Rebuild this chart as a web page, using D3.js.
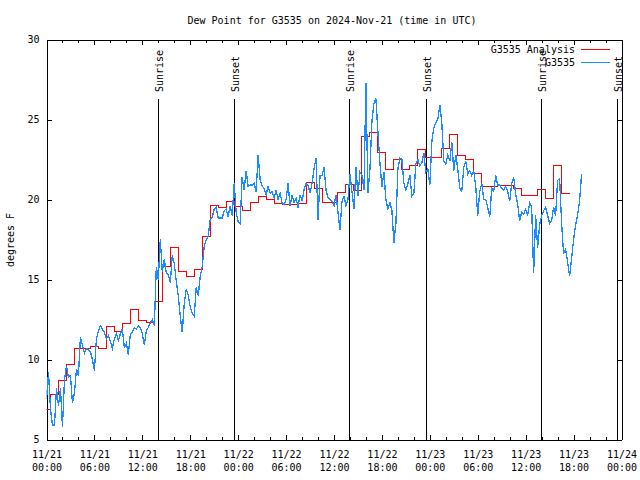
<!DOCTYPE html>
<html>
<head>
<meta charset="utf-8">
<script src="https://cdn.jsdelivr.net/npm/d3@7"></script>
<style>
  body { margin: 0; background: #fff; }
  svg text { font-family: "DejaVu Sans Mono", "Liberation Mono", monospace; font-size: 10px; fill: #000; }
</style>
</head>
<body>
<svg id="chart" width="640" height="480"></svg>
<script>
// ---------------- data ----------------
const chartTitle = "Dew Point for G3535 on 2024-Nov-21 (time in UTC)";
const yAxisLabel = "degrees F";
const seriesNames = ["G3535 Analysis", "G3535"];
const startTime = "2024-11-21T00:00:00Z";
const endTime = "2024-11-24T00:00:00Z";
const yTicks = [5, 10, 15, 20, 25, 30];
const xMajorStepHours = 6;
const xMinorStepHours = 2;

// hourly analysis values (held for the hour centred on each timestamp)
const analysisValues = [
  6.9, 7.8, 8.7, 9.7, 10.67, 10.67, 10.8, 10.67, 12.04, 11.75, 12.25, 13.1,
  12.42, 12.33, 13.65, 15.83, 16.98, 15.48, 15.21, 15.63, 17.71, 19.63, 19.5, 19.86,
  19.55, 19.31, 19.79, 20.17, 20.0, 19.75, 19.69, 19.7, 19.73, 21.04, 20.67, 19.83,
  19.83, 20.46, 20.94, 20.56, 23.96, 24.21, 22.96, 21.875, 22.5, 21.875, 22.125, 23.125,
  22.6, 22.6, 23.19, 24.06, 22.77, 22.48, 21.65, 20.83, 20.83, 20.9, 20.85, 20.67,
  20.25, 20.25, 20.625, 20.06, 22.125, 20.375
];

// station observations every 15 minutes from startTime
const obsStepMinutes = 15;
const obsValues = [
  7.5, 9.2, 6.9, 5.9,   5.9, 8.2, 7.1, 8.2,   5.8, 8.7, 9.6, 8.9,   9.0, 7.3, 7.9, 9.4,
  9.0, 11.4, 10.9, 10.4,   10.7, 10.6, 10.5, 10.0,   9.3, 11.3, 11.8, 12.1,   11.9, 11.7, 11.3, 11.5,
  11.1, 10.7, 11.3, 11.6,   11.2, 11.6, 11.9, 10.7,   11.0, 10.3, 11.6, 11.7,   12.0, 11.9, 12.1, 12.0,
  11.6, 10.9, 11.8, 12.0,   12.3, 12.5, 12.1, 15.8,   15.0, 17.5, 15.5, 16.25,   15.4, 15.3, 14.8, 16.5,
  16.0, 14.9, 14.0, 12.7,   11.7, 13.5, 14.4, 14.0,   13.3, 12.9, 12.7, 14.5,   14.0, 15.2, 15.8, 17.1,
  17.5, 17.7, 18.75, 18.9,   19.4, 19.5, 18.85, 18.85,   18.85, 19.3, 19.4, 18.9,   19.6, 19.0, 21.0, 19.2,
  18.6, 18.5, 21.4, 20.6,   21.8, 20.8, 20.9, 20.9,   21.0, 20.5, 22.8, 21.25,   20.85, 20.7, 20.3, 20.8,
  20.4, 20.5, 20.1, 20.6,   20.0, 20.4, 19.8, 19.7,   20.0, 21.0, 19.6, 20.3,   19.8, 20.1, 19.5, 20.3,
  19.9, 20.6, 21.0, 20.9,   20.4, 21.0, 21.9, 22.6,   18.7, 21.5, 21.5, 22.0,   20.6, 20.1, 20.0, 19.9,
  19.6, 20.3, 19.2, 18.1,   19.9, 20.2, 19.6, 20.0,   21.6, 20.5, 19.4, 22.0,   20.2, 21.7, 21.5, 20.6,
  27.3, 20.4, 21.9, 24.9,   26.0, 26.3, 24.2, 22.3,   20.8, 21.7, 20.0, 19.4,   19.8, 19.3, 17.3, 18.5,
  21.9, 22.6, 22.5, 21.0,   20.6, 21.0, 21.5, 20.2,   20.4, 22.2, 22.5, 22.1,   22.3, 22.9, 21.7, 21.9,
  20.9, 23.6, 24.5, 24.8,   25.0, 25.9, 24.8, 22.4,   22.2, 22.8, 22.4, 23.6,   21.8, 22.8, 21.9, 20.7,
  20.5, 22.0, 22.4, 21.6,   21.8, 21.5, 21.8, 20.8,   19.0, 20.5, 21.0, 20.0,   20.0, 19.5, 18.9, 20.7,
  20.5, 21.5, 20.9, 20.9,   20.7, 20.6, 20.8, 20.5,   19.9, 21.0, 21.4, 20.3,   19.7, 18.65, 19.2, 19.1,
  19.4, 19.0, 19.8, 19.5,   15.4, 19.0, 17.0, 18.4,   19.0, 19.3, 19.5, 19.0,   18.5, 18.7, 19.5, 19.0,
  21.2, 21.3, 18.5, 16.6,   16.9, 16.1, 15.2, 16.3,   17.5, 18.4, 19.0, 19.9,   21.6
];

const sunriseTimes = ["2024-11-21T14:00:00Z", "2024-11-22T13:57:00Z", "2024-11-23T13:59:00Z"];
const sunsetTimes  = ["2024-11-21T23:33:00Z", "2024-11-22T23:35:00Z", "2024-11-23T23:30:00Z"];

// ---------------- drawing ----------------
const svg = d3.select("#chart");
const W = 640, H = 480;
const margin = { left: 46.5, right: 621.5, top: 39.5, bottom: 439.5 };
const analysisColor = "#ff0000", obsColor = "#1a8cff";

const t0 = new Date(startTime), t1 = new Date(endTime);
const x = d3.scaleUtc().domain([t0, t1]).range([margin.left, margin.right]);
const y = d3.scaleLinear().domain([5, 30]).range([margin.bottom, margin.top]);

const hour = 3600 * 1000;
const majorTicks = d3.range(0, 72 + 1, xMajorStepHours).map(h => new Date(+t0 + h * hour));
const minorTicks = d3.range(0, 72, xMinorStepHours).filter(h => h % xMajorStepHours !== 0)
  .map(h => new Date(+t0 + h * hour));

svg.append("rect").attr("width", W).attr("height", H).attr("fill", "#fff");

svg.append("clipPath").attr("id", "plotclip").append("rect")
  .attr("x", margin.left).attr("y", margin.top)
  .attr("width", margin.right - margin.left).attr("height", margin.bottom - margin.top);

const fmtDate = d3.utcFormat("%m/%d"), fmtTime = d3.utcFormat("%H:%M");

function styleAxis(g) {
  g.selectAll("path, line").attr("stroke", "#000").attr("stroke-width", 1)
    .attr("shape-rendering", "crispEdges");
  g.selectAll("text").attr("fill", "#000")
    .style("font-family", '"DejaVu Sans Mono", "Liberation Mono", monospace')
    .style("font-size", "10px");
}

const gBottom = svg.append("g").attr("transform", `translate(0,${margin.bottom})`)
  .call(d3.axisBottom(x).tickValues(majorTicks).tickSizeInner(-5).tickSizeOuter(0)
    .tickPadding(11).tickFormat(fmtDate));
gBottom.selectAll(".tick text").each(function (d) {
  const t = d3.select(this);
  t.text(null);
  t.append("tspan").attr("x", 0).text(fmtDate(d));
  t.append("tspan").attr("x", 0).attr("dy", 13).text(fmtTime(d));
});
styleAxis(gBottom);
const gBottomMinor = svg.append("g").attr("transform", `translate(0,${margin.bottom})`)
  .call(d3.axisBottom(x).tickValues(minorTicks).tickSizeInner(-3).tickSizeOuter(0).tickFormat(""));
gBottomMinor.select(".domain").remove();
styleAxis(gBottomMinor);

const gTop = svg.append("g").attr("transform", `translate(0,${margin.top})`)
  .call(d3.axisTop(x).tickValues(majorTicks).tickSizeInner(-5).tickSizeOuter(0).tickFormat(""));
styleAxis(gTop);
const gTopMinor = svg.append("g").attr("transform", `translate(0,${margin.top})`)
  .call(d3.axisTop(x).tickValues(minorTicks).tickSizeInner(-3).tickSizeOuter(0).tickFormat(""));
gTopMinor.select(".domain").remove();
styleAxis(gTopMinor);

const gLeft = svg.append("g").attr("transform", `translate(${margin.left},0)`)
  .call(d3.axisLeft(y).tickValues(yTicks).tickSizeInner(-5).tickSizeOuter(0).tickPadding(7)
    .tickFormat(d3.format("d")));
styleAxis(gLeft);
const gRight = svg.append("g").attr("transform", `translate(${margin.right},0)`)
  .call(d3.axisRight(y).tickValues(yTicks).tickSizeInner(-5).tickSizeOuter(0).tickFormat(""));
styleAxis(gRight);

// sunrise / sunset lines
const sunEvents = [
  ...sunriseTimes.map(t => ({ t: new Date(t), label: "Sunrise" })),
  ...sunsetTimes.map(t => ({ t: new Date(t), label: "Sunset" }))
];
const sunG = svg.append("g");
sunEvents.forEach(e => {
  const xp = Math.floor(x(e.t)) + 0.5;
  sunG.append("line").attr("x1", xp).attr("x2", xp).attr("y1", 99).attr("y2", margin.bottom)
    .attr("stroke", "#000").attr("stroke-width", 1).attr("shape-rendering", "crispEdges");
  sunG.append("text").attr("transform", `translate(${xp + 4},92) rotate(-90)`)
    .attr("text-anchor", "start").text(e.label);
});

// analysis (step line, each hourly value held +/- 30 min)
const analysisPts = [];
analysisValues.forEach((v, i) => {
  const tc = +t0 + i * hour;
  analysisPts.push([new Date(tc - hour / 2), v]);
  analysisPts.push([new Date(tc + hour / 2), v]);
});
const line = d3.line().x(d => Math.floor(x(d[0])) + 0.5).y(d => Math.floor(y(d[1])) + 0.5);
const obsLine = d3.line().x(d => x(d[0])).y(d => y(d[1]));
const plot = svg.append("g").attr("clip-path", "url(#plotclip)");
plot.append("path").datum(analysisPts).attr("d", line)
  .attr("fill", "none").attr("stroke", analysisColor).attr("stroke-width", 1.5)
  .attr("stroke-linejoin", "miter").attr("shape-rendering", "crispEdges");

const obsPts = obsValues.map((v, i) => [new Date(+t0 + i * obsStepMinutes * 60000), v]);
plot.append("path").datum(obsPts).attr("d", obsLine)
  .attr("fill", "none").attr("stroke", obsColor).attr("stroke-width", 1.3)
  .attr("shape-rendering", "crispEdges");

// title
svg.append("text").attr("x", 332).attr("y", 24).attr("text-anchor", "middle").text(chartTitle);
// y label
svg.append("text").attr("transform", "translate(13.5,240) rotate(-90)")
  .attr("text-anchor", "middle").text(yAxisLabel);

// legend
const legendColors = [analysisColor, obsColor];
seriesNames.forEach((name, i) => {
  const yy = 49.5 + i * 13;
  svg.append("text").attr("x", 575).attr("y", yy + 3.5).attr("text-anchor", "end").text(name);
  svg.append("line").attr("x1", 581).attr("x2", 610).attr("y1", yy).attr("y2", yy)
    .attr("stroke", legendColors[i]).attr("stroke-width", 1.5).attr("shape-rendering", "crispEdges");
});
</script>
</body>
</html>
